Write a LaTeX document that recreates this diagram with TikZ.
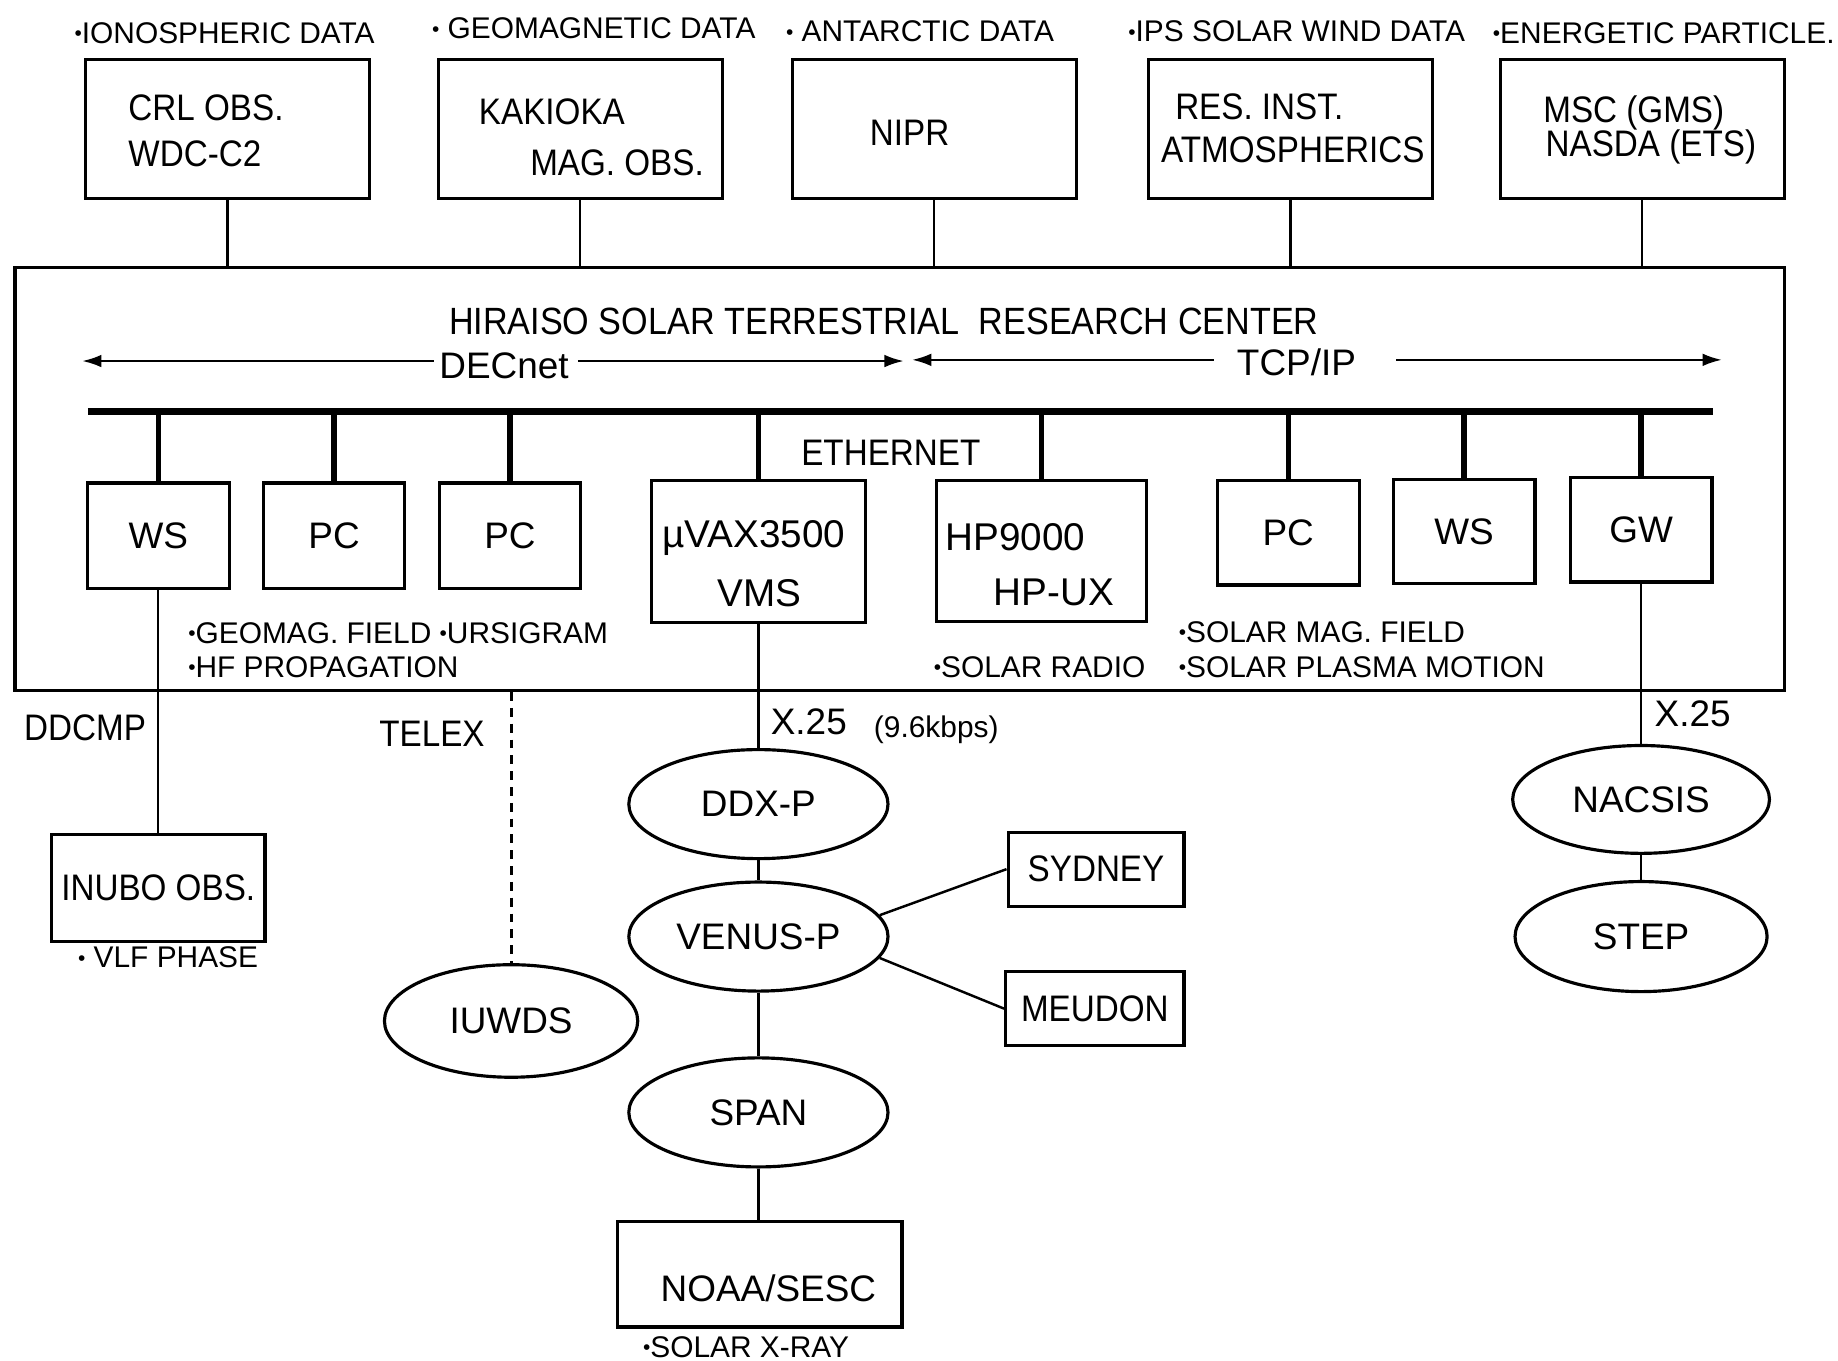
\documentclass[tikz,border=0pt]{standalone}
\usepackage{fontspec}
\setmainfont{Liberation Sans}
\newfontfamily\narrowfont[FakeStretch=0.9]{Liberation Sans}
\usetikzlibrary{shapes.geometric,arrows.meta}

\newcommand{\bdot}{\raisebox{0.08em}{\scalebox{0.7}{•}}}

\tikzset{
  lbl/.style={inner sep=0pt, font=\fontsize{10.5}{12}\selectfont},
  lbln/.style={inner sep=0pt, font=\narrowfont\fontsize{10.5}{12}\selectfont},
  note/.style={inner sep=0pt, font=\fontsize{8.5}{10}\selectfont},
  box/.style={draw, line width=0.9pt, inner sep=0pt, font=\fontsize{10.5}{12}\selectfont},
  net/.style={draw, ellipse, line width=0.9pt, inner sep=0pt, font=\fontsize{10.5}{12}\selectfont},
  link/.style={line width=0.7pt},
  tap/.style={line width=1.5pt},
  tip/.tip={Latex[length=5.5pt, width=3.6pt]},
}

\begin{document}
\begin{tikzpicture}[x=0.011722cm, y=-0.011722cm]
\useasboundingbox (0,0) rectangle (1568,1161);

%%%%%%%%%%%%%%%%%%%%%%%%%%%%%%%%%%%%%%%%%%%%%%%%%%%%%%%%%%%%%%%%%
% data sources

\node [note, anchor=west] (src-crl-d) at (63,28){\bdot IONOSPHERIC DATA};
\node [box, minimum width=2.837cm, minimum height=1.383cm] (src-crl) at (194,110){};
\node [lbln, anchor=west] (src-crl-t) at (109,115){\begin{tabular}{@{}l@{}}CRL OBS.\\[1pt] WDC-C2\end{tabular}};

\node [note, anchor=west] (src-kak-d) at (368,24){\bdot\ GEOMAGNETIC DATA};
\node [box, minimum width=2.837cm, minimum height=1.383cm] (src-kak) at (495,110){};
\node [lbln, anchor=west] (src-kak-t1) at (408,95){KAKIOKA};
\node [lbln, anchor=east] (src-kak-t2) at (601,139){MAG. OBS.};

\node [note, anchor=west] (src-nipr-d) at (670,27){\bdot\ ANTARCTIC DATA};
\node [box, minimum width=2.837cm, minimum height=1.383cm] (src-nipr) at (797,110){};
\node [lbln] (src-nipr-t) at (776,113){NIPR};

\node [note, anchor=west] (src-res-d) at (962,27){\bdot IPS SOLAR WIND DATA};
\node [box, minimum width=2.837cm, minimum height=1.383cm] (src-res) at (1101,110){};
\node [lbln, anchor=west] (src-res-t1) at (1002,91){RES. INST.};
\node [lbln, anchor=west] (src-res-t2) at (990,128){ATMOSPHERICS};

\node [note, anchor=west] (src-msc-d) at (1273,28){\bdot ENERGETIC PARTICLE.};
\node [box, minimum width=2.837cm, minimum height=1.383cm] (src-msc) at (1401,110){};
\node [lbln, anchor=west] (src-msc-t1) at (1316,96){MSC (GMS)};
\node [lbln, anchor=west] (src-msc-t2) at (1318,125){NASDA (ETS)};

%%%%%%%%%%%%%%%%%%%%%%%%%%%%%%%%%%%%%%%%%%%%%%%%%%%%%%%%%%%%%%%%%
% center

\node [box, minimum width=17.689cm, minimum height=4.232cm] (hrsc) at (767.5,408.5){};
\node [lbln, font=\narrowfont\fontsize{10.8}{12}\selectfont] (hrsc-t) at (754,274){HIRAISO SOLAR TERRESTRIAL\ \ RESEARCH CENTER};

\draw [link]   (src-crl.south) -- (src-crl.south |- hrsc.north);
\draw [link]   (src-kak.south) -- (src-kak.south |- hrsc.north);
\draw [link]   (src-nipr.south) -- (src-nipr.south |- hrsc.north);
\draw [link]   (src-res.south) -- (src-res.south |- hrsc.north);
\draw [link]   (src-msc.south) -- (src-msc.south |- hrsc.north);

\coordinate (dec-l) at (70,308);
\coordinate (dec-a) at (370,308);
\coordinate (dec-b) at (493,308);
\coordinate (dec-r) at (771,308);
\node [lbl] (dec-t) at (430,312){DECnet};
\draw [link,tip-]   (dec-l) -- (dec-a);
\draw [link,-tip]   (dec-b) -- (dec-r);

\coordinate (tcp-l) at (778,307);
\coordinate (tcp-a) at (1036,307);
\coordinate (tcp-b) at (1191,307);
\coordinate (tcp-r) at (1469,307);
\node [lbl] (tcp-t) at (1106,309){TCP/IP};
\draw [link,tip-]   (tcp-l) -- (tcp-a);
\draw [link,-tip]   (tcp-b) -- (tcp-r);

\coordinate (bus-l) at (75,351);
\coordinate (bus-r) at (1461,351);
\draw [line width=2pt]   (bus-l) -- (bus-r);
\node [lbln, anchor=west] (bus-t) at (683,386){ETHERNET};

%%%%%%%%%%%%%%%%%%%%%%%%%%%%%%%%%%%%%%%%%%%%%%%%%%%%%%%%%%%%%%%%%
% hosts

\node [box, minimum width=1.418cm, minimum height=1.055cm] (lan-ws-1) at (135,457){WS};
\node [box, minimum width=1.407cm, minimum height=1.055cm] (lan-pc-1) at (285,457){PC};
\node [box, minimum width=1.407cm, minimum height=1.055cm] (lan-pc-2) at (435,457){PC};

\node [box, minimum width=2.133cm, minimum height=1.418cm] (lan-vax) at (647,470.5){};
\node [lbl, font=\fontsize{11}{12}\selectfont] (lan-vax-t1) at (643,459){µVAX3500};
\node [lbl, font=\fontsize{11}{12}\selectfont] (lan-vax-t2) at (648,506){VMS};

\node [box, minimum width=2.098cm, minimum height=1.407cm] (lan-hp) at (888.5,470){};
\node [lbl, anchor=west, font=\fontsize{11}{12}\selectfont] (lan-hp-t1) at (806,458){HP9000};
\node [lbl, anchor=west, font=\fontsize{11}{12}\selectfont] (lan-hp-t2) at (847,505){HP-UX};

\node [box, minimum width=1.418cm, minimum height=1.043cm] (lan-pc-3) at (1099,454.5){PC};
\node [box, minimum width=1.418cm, minimum height=1.043cm] (lan-ws-2) at (1249,453.5){WS};
\node [box, minimum width=1.418cm, minimum height=1.043cm] (lan-gw) at (1400,452){GW};

\draw [tap]   (lan-ws-1.north) -- (lan-ws-1.north |- bus-l);
\draw [tap]   (lan-pc-1.north) -- (lan-pc-1.north |- bus-l);
\draw [tap]   (lan-pc-2.north) -- (lan-pc-2.north |- bus-l);
\draw [tap]   (lan-vax.north) -- (lan-vax.north |- bus-l);
\draw [tap]   (lan-hp.north) -- (lan-hp.north |- bus-l);
\draw [tap]   (lan-pc-3.north) -- (lan-pc-3.north |- bus-l);
\draw [tap]   (lan-ws-2.north) -- (lan-ws-2.north |- bus-l);
\draw [tap]   (lan-gw.north) -- (lan-gw.north |- bus-l);

\node [note, anchor=west] (lan-n1) at (160,540){\bdot GEOMAG. FIELD \bdot URSIGRAM};
\node [note, anchor=west] (lan-n2) at (160,569){\bdot HF PROPAGATION};
\node [note, anchor=west] (lan-n3) at (796,569){\bdot SOLAR RADIO};
\node [note, anchor=west] (lan-n4) at (1005,539){\bdot SOLAR MAG. FIELD};
\node [note, anchor=west] (lan-n5) at (1005,569){\bdot SOLAR PLASMA MOTION};

%%%%%%%%%%%%%%%%%%%%%%%%%%%%%%%%%%%%%%%%%%%%%%%%%%%%%%%%%%%%%%%%%
% outside links

\node [box, minimum width=2.133cm, minimum height=1.067cm, font=\narrowfont\fontsize{10.5}{12}\selectfont] (ext-inubo) at (135,757.5){INUBO OBS.};
\node [note, anchor=west] (ext-inubo-n) at (66,817){\bdot\ VLF PHASE};
\node [lbln, anchor=west] (ext-ddcmp) at (20,621){DDCMP};
\draw [link]   (lan-ws-1.south) -- (ext-inubo.north);

\node [net, minimum width=2.532cm, minimum height=1.125cm] (ext-iuwds) at (436,871){IUWDS};
\node [lbln, anchor=west] (ext-telex) at (323,626){TELEX};
\draw [link, line width=0.9pt, dash pattern=on 2.5pt off 2pt]   (ext-iuwds.north |- hrsc.south) -- (ext-iuwds.north);

\node [net, minimum width=2.591cm, minimum height=1.090cm] (ext-ddxp) at (647,686){DDX-P};
\node [net, minimum width=2.591cm, minimum height=1.090cm] (ext-venus) at (647,799){VENUS-P};
\node [net, minimum width=2.591cm, minimum height=1.090cm] (ext-span) at (647,949){SPAN};
\node [box, minimum width=2.848cm, minimum height=1.055cm] (ext-noaa) at (648,1087){};
\node [lbl, anchor=west] (ext-noaa-t) at (563,1099){NOAA/SESC};
\node [note, anchor=west] (ext-noaa-n) at (548,1149){\bdot SOLAR X-RAY};
\node [lbl, anchor=west] (ext-x25-1) at (657,616){X.25};
\node [note, anchor=west] (ext-rate) at (745,623){(9.6kbps)};

\draw [link]   (lan-vax.south) -- (ext-ddxp.north);
\draw [link]   (ext-ddxp.south) -- (ext-venus.north);
\draw [link]   (ext-venus.south) -- (ext-span.north);
\draw [link]   (ext-span.south) -- (ext-noaa.north -| ext-span.south);

\node [box, minimum width=1.758cm, minimum height=0.738cm, font=\narrowfont\fontsize{10.5}{12}\selectfont] (ext-sydney) at (935,741.5){SYDNEY};
\node [box, minimum width=1.782cm, minimum height=0.738cm, font=\narrowfont\fontsize{10.5}{12}\selectfont] (ext-meudon) at (934,860.5){MEUDON};
\draw [link]   (ext-venus.10) -- (ext-sydney.west);
\draw [link]   (ext-venus.-10) -- (ext-meudon.west);

\node [net, minimum width=2.567cm, minimum height=1.078cm] (ext-nacsis) at (1400,682){NACSIS};
\node [net, minimum width=2.520cm, minimum height=1.100cm] (ext-step) at (1400,799){STEP};
\node [lbl, anchor=west] (ext-x25-2) at (1411,609){X.25};
\draw [link]   (lan-gw.south) -- (ext-nacsis.north);
\draw [link]   (ext-nacsis.south) -- (ext-step.north);

\end{tikzpicture}
\end{document}
